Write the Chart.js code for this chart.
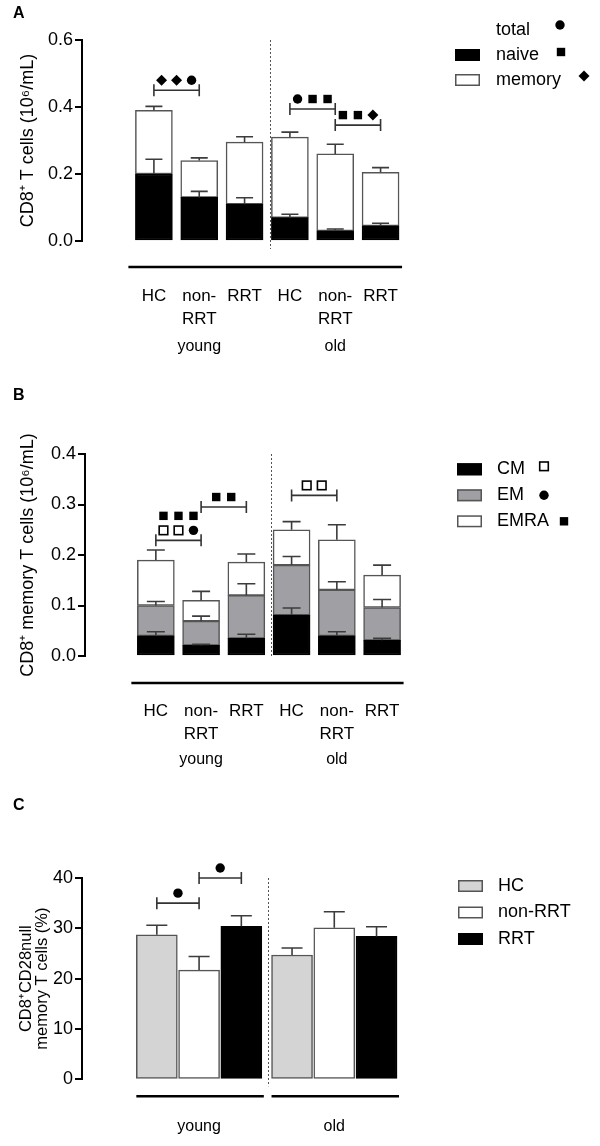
<!DOCTYPE html>
<html>
<head>
<meta charset="utf-8">
<script src="https://cdn.jsdelivr.net/npm/chart.js@4.4.1/dist/chart.umd.min.js"></script>
<style>
  body { margin: 0; background: #fff; }
  #fig { position: relative; width: 600px; height: 1146px; }
  canvas { position: absolute; left: 0; }
</style>
</head>
<body>
<div id="fig">
  <canvas id="chartA" width="600" height="375" style="top:0px"></canvas>
  <canvas id="chartB" width="600" height="415" style="top:375px"></canvas>
  <canvas id="chartC" width="600" height="356" style="top:790px"></canvas>
</div>
<script>
// categories
const groupNames = ["young", "old"];
const catLabels = ["HC", ["non-", "RRT"], "RRT", "HC", ["non-", "RRT"], "RRT"];
const cohortNames = ["HC", "non-RRT", "RRT"];

// panel A: CD8+ T cells (10^6/mL), naive + memory stacked = total
const naiveA = [0.20, 0.13, 0.11, 0.07, 0.03, 0.045];
const memoryA = [0.19, 0.11, 0.185, 0.24, 0.23, 0.16];
const naiveErrA = [0.044, 0.018, 0.019, 0.01, 0.006, 0.008];
const totalErrA = [0.012, 0.008, 0.016, 0.015, 0.029, 0.014];

// panel B: CD8+ memory T cells (10^6/mL), CM + EM + EMRA
const cmB = [0.04, 0.021, 0.035, 0.081, 0.04, 0.031];
const emB = [0.06, 0.048, 0.085, 0.099, 0.091, 0.065];
const emraB = [0.09, 0.041, 0.066, 0.07, 0.099, 0.064];
const cmErrB = [0.008, 0.002, 0.008, 0.014, 0.008, 0.004];
const emErrB = [0.008, 0.01, 0.023, 0.017, 0.016, 0.016];
const emraErrB = [0.02, 0.018, 0.016, 0.016, 0.03, 0.02];

// panel C: CD8+CD28null memory T cells (%)
const cd28nullC = [28.7, 21.7, 30.4, 24.7, 30.1, 28.4];
const cd28nullErrC = [1.9, 2.7, 2.1, 1.4, 3.2, 1.9];

// significance brackets (bar index from/to, height in data units, symbol rows top to bottom)
const bracketsA = [
  { from: 0, to: 1, y: 0.45, rows: [["diamond", "diamond", "circle"]] },
  { from: 3, to: 4, y: 0.394, rows: [["circle", "square", "square"]] },
  { from: 4, to: 5, y: 0.346, rows: [["square", "square", "diamond"]] }
];
const bracketsB = [
  { from: 0, to: 1, y: 0.229, rows: [["square", "square", "square"], ["open", "open", "circle"]] },
  { from: 1, to: 2, y: 0.295, rows: [["square", "square"]] },
  { from: 3, to: 4, y: 0.318, rows: [["open", "open"]] }
];
const bracketsC = [
  { from: 0, to: 1, y: 35, rows: [["circle"]] },
  { from: 1, to: 2, y: 40, rows: [["circle"]] }
];

const FONT = "'Liberation Sans', Arial, Helvetica, sans-serif";
Chart.defaults.font.family = FONT;
Chart.defaults.color = "#000";

// bar positions on the x axis; panel C has a wider gap between the age groups
const xPosAB = catLabels.map((_, i) => i);
const xPosC = catLabels.map((_, i) => i + (i >= 3 ? 0.2 : 0));
const pts = (vals, xs) => vals.map((v, i) => ({ x: xs[i], y: v }));

function drawSymbol(ctx, kind, x, y) {
  ctx.fillStyle = "#000";
  ctx.strokeStyle = "#000";
  if (kind === "circle") {
    ctx.beginPath(); ctx.arc(x, y, 4.7, 0, Math.PI * 2); ctx.fill();
  } else if (kind === "square") {
    ctx.fillRect(x - 4.2, y - 4.2, 8.4, 8.4);
  } else if (kind === "open") {
    ctx.lineWidth = 1.6;
    ctx.strokeRect(x - 4.3, y - 4.3, 8.6, 8.6);
  } else if (kind === "diamond") {
    ctx.beginPath();
    ctx.moveTo(x, y - 5.5); ctx.lineTo(x + 5.5, y); ctx.lineTo(x, y + 5.5); ctx.lineTo(x - 5.5, y);
    ctx.closePath(); ctx.fill();
  }
}

// error bars, divider, brackets, group lines, letter and legend for one panel
function figureExtras(o) {
  return {
    id: "figureExtras",
    afterDatasetsDraw(chart) {
      const ctx = chart.ctx;
      const xs = chart.scales.x, ys = chart.scales.y;
      const area = chart.chartArea;
      const zero = ys.getPixelForValue(0);
      const centre = i => xs.getPixelForValue(o.xPos[i]);
      ctx.save();

      // error bars (upper only)
      ctx.strokeStyle = "#3c3c3c";
      ctx.lineWidth = 1.6;
      chart.data.datasets.forEach((ds, di) => {
        const errs = o.errors[di];
        chart.getDatasetMeta(di).data.forEach((bar, i) => {
          const yErr = bar.y - (zero - ys.getPixelForValue(errs[i]));
          ctx.beginPath();
          ctx.moveTo(bar.x, bar.y); ctx.lineTo(bar.x, yErr);
          ctx.moveTo(bar.x - o.errorCap / 2, yErr); ctx.lineTo(bar.x + o.errorCap / 2, yErr);
          ctx.stroke();
        });
      });

      // dotted divider between age groups
      const half = o.barWidth / 2;
      const xd = Math.round(centre(o.dividerAfter) + half + 6.5) + 0.5;
      ctx.strokeStyle = "#555";
      ctx.lineWidth = 1;
      ctx.setLineDash([2, 2]);
      ctx.beginPath(); ctx.moveTo(xd, area.top); ctx.lineTo(xd, area.bottom + o.dividerExt); ctx.stroke();
      ctx.setLineDash([]);

      // significance brackets
      o.brackets.forEach(b => {
        const x1 = centre(b.from), x2 = centre(b.to), yb = ys.getPixelForValue(b.y);
        ctx.strokeStyle = "#333";
        ctx.lineWidth = 1.6;
        ctx.beginPath();
        ctx.moveTo(x1, yb); ctx.lineTo(x2, yb);
        ctx.moveTo(x1, yb - 6); ctx.lineTo(x1, yb + 6);
        ctx.moveTo(x2, yb - 6); ctx.lineTo(x2, yb + 6);
        ctx.stroke();
        const mid = (x1 + x2) / 2;
        const n = b.rows.length;
        b.rows.forEach((row, r) => {
          const sy = yb - 10 - (n - 1 - r) * 14.5;
          row.forEach((kind, k) => drawSymbol(ctx, kind, mid + (k - (row.length - 1) / 2) * 15, sy));
        });
      });
      ctx.restore();
    },
    afterDraw(chart) {
      const ctx = chart.ctx;
      const xs = chart.scales.x;
      const area = chart.chartArea;
      const centre = i => xs.getPixelForValue(o.xPos[i]);
      const half = o.barWidth / 2;
      ctx.save();

      // group lines and labels
      ctx.strokeStyle = "#000";
      ctx.lineWidth = 2.5;
      const gy = area.bottom + o.groupLineDy;
      o.groupLines.forEach(([a, b]) => {
        ctx.beginPath();
        ctx.moveTo(centre(a) - half - o.groupLineExt[0], gy);
        ctx.lineTo(centre(b) + half + o.groupLineExt[1], gy);
        ctx.stroke();
      });
      ctx.fillStyle = "#000";
      ctx.font = "16px " + FONT;
      ctx.textAlign = "center";
      ctx.textBaseline = "middle";
      groupNames.forEach((g, k) => ctx.fillText(g, centre(o.groupLabelAt[k]), area.bottom + o.groupLabelDy));

      // panel letter
      ctx.font = "bold 16px " + FONT;
      ctx.textAlign = "left";
      ctx.textBaseline = "alphabetic";
      ctx.fillText(o.letter, 13, o.letterY);

      // legend
      const lg = o.legend;
      ctx.font = "18px " + FONT;
      ctx.textBaseline = "middle";
      lg.items.forEach((it, k) => {
        const cy = lg.y + k * lg.step;
        if (it.fill) {
          ctx.fillStyle = it.fill;
          ctx.fillRect(lg.x, cy - 6, 25, 12);
          ctx.strokeStyle = it.stroke;
          ctx.lineWidth = 1.5;
          ctx.strokeRect(lg.x + 0.75, cy - 5.25, 23.5, 10.5);
        }
        ctx.fillStyle = "#000";
        ctx.fillText(it.label, lg.textX, cy);
        if (it.symbol) drawSymbol(ctx, it.symbol, it.symX, cy - it.raise);
      });
      ctx.restore();
    }
  };
}

function xScale(min, max, positions, labels, height) {
  return {
    type: "linear", min, max, stacked: true,
    grid: { display: false },
    border: { display: false },
    afterBuildTicks: s => { s.ticks = positions.map(v => ({ value: v })); },
    afterFit: s => { s.height = height; },
    ticks: {
      display: !!labels, autoSkip: false, maxRotation: 0, padding: 36,
      font: { size: 17, lineHeight: 1.35 },
      callback: (v, i) => (labels ? labels[i] : "")
    }
  };
}

function yScale(max, step, digits, title, titleSize, width) {
  return {
    min: 0, max, stacked: true,
    afterFit: s => { s.width = width; },
    border: { color: "#000", width: 2 },
    grid: { drawOnChartArea: false, color: "#000", lineWidth: 2, tickLength: 7 },
    ticks: { stepSize: step, padding: 2, font: { size: 18 }, callback: v => v.toFixed(digits) },
    title: { display: true, text: title, font: { size: titleSize, lineHeight: 0.95 }, padding: { top: 19, bottom: 0 } }
  };
}

const baseOptions = {
  responsive: false,
  animation: false,
  events: [],
  plugins: { legend: { display: false }, tooltip: { enabled: false } }
};

function barSet(label, vals, xs, fill, stroke, width) {
  return {
    label, data: pts(vals, xs), backgroundColor: fill, borderColor: stroke,
    borderWidth: 1.5, borderSkipped: false, barThickness: width, stack: "s"
  };
}

// ---- panel A ----
new Chart(document.getElementById("chartA"), {
  type: "bar",
  data: {
    datasets: [
      barSet("naive", naiveA, xPosAB, "#000", "#000", 37),
      barSet("memory", memoryA, xPosAB, "#fff", "#555", 37)
    ]
  },
  options: {
    ...baseOptions,
    layout: { padding: { top: 40, right: 160, bottom: 0, left: 0 } },
    scales: {
      x: xScale(-0.928, 5.653, xPosAB, catLabels, 134),
      y: yScale(0.6, 0.2, 1, "CD8⁺ T cells (10⁶/mL)", 18, 82)
    }
  },
  plugins: [figureExtras({
    letter: "A", letterY: 18, xPos: xPosAB, barWidth: 37, errorCap: 17,
    errors: [naiveErrA, totalErrA],
    dividerAfter: 2, dividerExt: 8, brackets: bracketsA,
    groupLines: [[0, 5]], groupLineExt: [7, 3], groupLineDy: 26,
    groupLabelDy: 106, groupLabelAt: [1, 4],
    legend: {
      x: 455, textX: 496, y: 30, step: 25,
      items: [
        { label: "total", symbol: "circle", symX: 560, raise: 5 },
        { label: "naive", fill: "#000", stroke: "#000", symbol: "square", symX: 561, raise: 3 },
        { label: "memory", fill: "#fff", stroke: "#555", symbol: "diamond", symX: 584, raise: 4 }
      ]
    }
  })]
});

// ---- panel B ----
new Chart(document.getElementById("chartB"), {
  type: "bar",
  data: {
    datasets: [
      barSet("CM", cmB, xPosAB, "#000", "#000", 37),
      barSet("EM", emB, xPosAB, "#a0a0a4", "#555", 37),
      barSet("EMRA", emraB, xPosAB, "#fff", "#555", 37)
    ]
  },
  options: {
    ...baseOptions,
    layout: { padding: { top: 79, right: 160, bottom: 0, left: 0 } },
    scales: {
      x: xScale(-0.912, 5.626, xPosAB, catLabels, 134),
      y: yScale(0.4, 0.1, 1, "CD8⁺ memory T cells (10⁶/mL)", 18, 85)
    }
  },
  plugins: [figureExtras({
    letter: "B", letterY: 25, xPos: xPosAB, barWidth: 37, errorCap: 18,
    errors: [cmErrB, emErrB, emraErrB],
    dividerAfter: 2, dividerExt: 0, brackets: bracketsB,
    groupLines: [[0, 5]], groupLineExt: [6, 3], groupLineDy: 27,
    groupLabelDy: 104, groupLabelAt: [1, 4],
    legend: {
      x: 457, textX: 497, y: 94.3, step: 26,
      items: [
        { label: "CM", fill: "#000", stroke: "#000", symbol: "open", symX: 544, raise: 3 },
        { label: "EM", fill: "#a0a0a4", stroke: "#555", symbol: "circle", symX: 544, raise: 0 },
        { label: "EMRA", fill: "#fff", stroke: "#555", symbol: "square", symX: 564, raise: 0 }
      ]
    }
  })]
});

// ---- panel C ----
const fillC = ["#d4d4d4", "#fff", "#000"];
const strokeC = ["#555", "#555", "#000"];
new Chart(document.getElementById("chartC"), {
  type: "bar",
  data: {
    datasets: [{
      label: "CD28null", data: pts(cd28nullC, xPosC),
      backgroundColor: cd28nullC.map((_, i) => fillC[i % 3]),
      borderColor: cd28nullC.map((_, i) => strokeC[i % 3]),
      borderWidth: 1.5, borderSkipped: false, barThickness: 41
    }]
  },
  options: {
    ...baseOptions,
    layout: { padding: { top: 88, right: 160, bottom: 0, left: 0 } },
    scales: {
      x: xScale(-1.065, 5.996, xPosC, null, 66.7),
      y: yScale(40, 10, 0, ["CD8⁺CD28null", "memory T cells (%)"], 16.5, 82)
    }
  },
  plugins: [figureExtras({
    letter: "C", letterY: 20, xPos: xPosC, barWidth: 41, errorCap: 21,
    errors: [cd28nullErrC],
    dividerAfter: 2, dividerExt: 7, brackets: bracketsC,
    groupLines: [[0, 2], [3, 5]], groupLineExt: [0, 2], groupLineDy: 17,
    groupLabelDy: 47, groupLabelAt: [1, 4],
    legend: {
      x: 458, textX: 498, y: 96, step: 26.5,
      items: cohortNames.map((n, i) => ({ label: n, fill: fillC[i], stroke: strokeC[i] }))
    }
  })]
});
</script>
</body>
</html>
